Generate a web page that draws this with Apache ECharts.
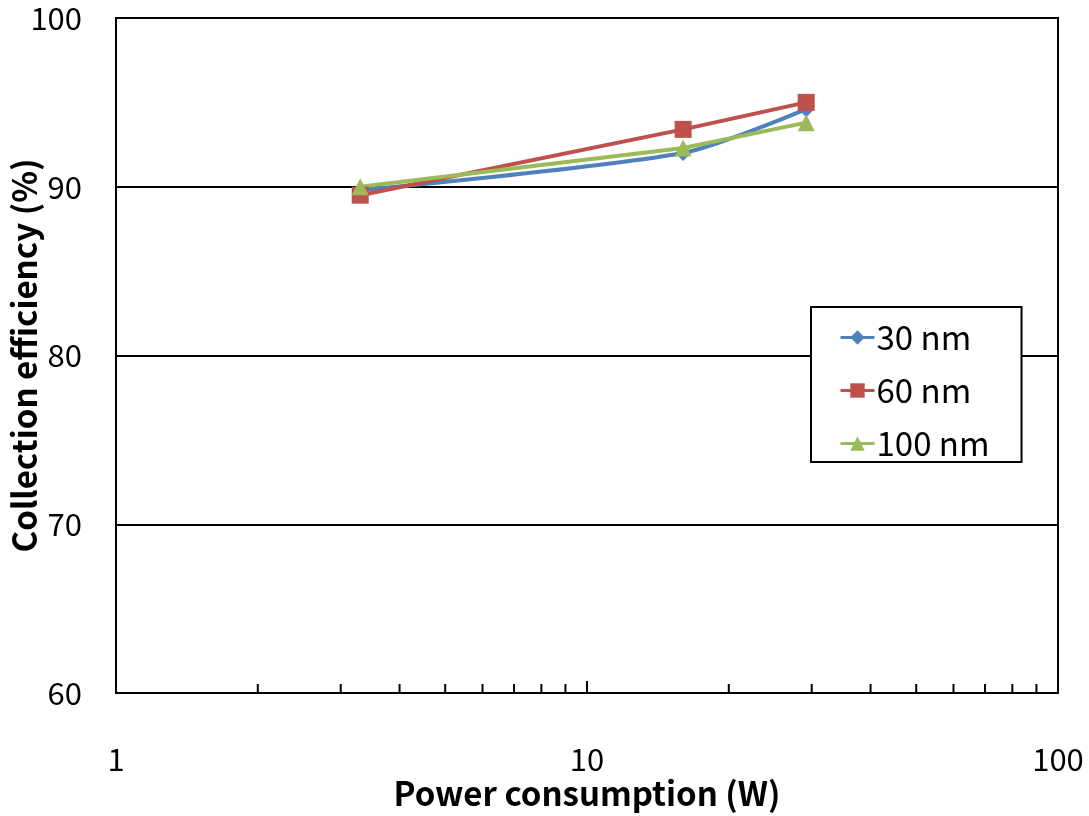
<!DOCTYPE html>
<html><head><meta charset="utf-8">
<script src="https://cdn.jsdelivr.net/npm/echarts@6/dist/echarts.min.js"></script>
<style>html,body{margin:0;padding:0;background:#fff}#c{width:1089px;height:816px}</style>
</head><body><div id="c"></div>
<script>
const powerW = [3.3, 16, 29.2];
const eff30 = [89.8, 92.0, 94.6];
const eff60 = [89.5, 93.4, 95.0];
const eff100 = [90.0, 92.3, 93.8];
const seriesNames = ['30 nm', '60 nm', '100 nm'];
const minorTickValues = [2,3,4,5,6,7,8,9,20,30,40,50,60,70,80,90];
const majorTickValues = [10];

const FONT = '"Noto Sans CJK KR", "Noto Sans", sans-serif';
const chart = echarts.init(document.getElementById('c'));
function pairs(xs, ys){ return xs.map((x,i)=>[x, ys[i]]); }
const tickSeries = (vals, len) => ({
  type: 'custom', silent: true, clip: false, z: 5,
  data: vals.map(v => [v, 60]),
  renderItem: (params, api) => {
    const p = api.coord([api.value(0), api.value(1)]);
    return { type: 'line', shape: {x1: p[0], y1: p[1], x2: p[0], y2: p[1] - len},
      style: {stroke: '#000', lineWidth: 2} };
  }
});
chart.setOption({
  animation: false,
  grid: {left: 116, right: 31, top: 18, bottom: 123, show: true, borderColor: '#000', borderWidth: 2,
         containLabel: false, outerBoundsMode: 'none'},
  xAxis: {
    type: 'log', logBase: 10, min: 1, max: 100,
    axisLine: {show: true, onZero: false, lineStyle: {color: '#000', width: 2}},
    axisTick: {show: false},
    splitLine: {show: false},
    axisLabel: {color: '#000', fontSize: 31, fontFamily: FONT, margin: 51},
    name: 'Power consumption (W)', nameLocation: 'middle', nameGap: 84, nameMoveOverlap: false,
    nameTextStyle: {color: '#000', fontSize: 33, fontWeight: 'bold', fontFamily: FONT}
  },
  yAxis: {
    type: 'value', min: 60, max: 100, interval: 10,
    axisLine: {show: true, lineStyle: {color: '#000', width: 2}},
    axisTick: {show: false},
    splitLine: {show: true, lineStyle: {color: '#000', width: 2}},
    axisLabel: {color: '#000', fontSize: 31, fontFamily: FONT, margin: 34},
    name: 'Collection efficiency (%)', nameLocation: 'middle', nameGap: 75, nameMoveOverlap: false,
    nameTextStyle: {color: '#000', fontSize: 33, fontWeight: 'bold', fontFamily: FONT}
  },
  legend: {
    orient: 'vertical', left: 811, top: 307,
    padding: [14, 32, 2, 28], itemGap: 20,
    borderColor: '#000', borderWidth: 2, backgroundColor: '#fff',
    itemWidth: 34, itemHeight: 18,
    lineStyle: {width: 3},
    textStyle: {color: '#000', fontSize: 33, fontFamily: FONT, padding: [0,0,0,-3]},
    data: seriesNames
  },
  series: [
    {name: seriesNames[0], type: 'line', data: pairs(powerW, eff30), smooth: 0.25,
     symbol: 'diamond', symbolSize: 16, color: '#4F81BD', lineStyle: {width: 4}},
    {name: seriesNames[1], type: 'line', data: pairs(powerW, eff60),
     symbol: 'rect', symbolSize: 17, color: '#C0504D', lineStyle: {width: 4}},
    {name: seriesNames[2], type: 'line', data: pairs(powerW, eff100),
     symbol: 'triangle', symbolSize: 17, color: '#9BBB59', lineStyle: {width: 4}},
    tickSeries(minorTickValues, 9),
    tickSeries(majorTickValues, 12)
  ]
});
</script></body></html>
